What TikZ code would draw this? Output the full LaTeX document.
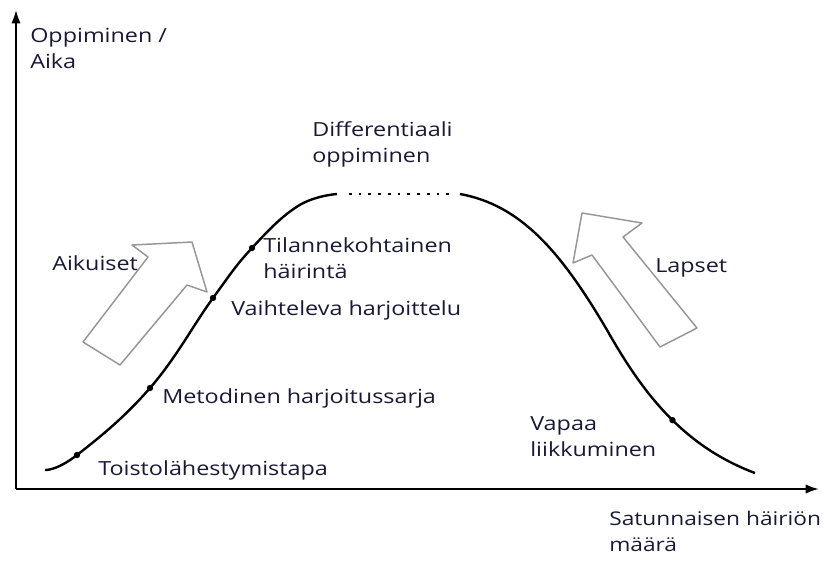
\documentclass[tikz,border=0pt]{standalone}
\usepackage{fontspec}
\setmainfont{Open Sans}[FakeStretch=1.2]
\usepackage{xcolor}
\usetikzlibrary{arrows.meta}
\definecolor{txt}{RGB}{25,25,55}
\definecolor{arrgray}{RGB}{150,150,150}

\begin{document}
\begin{tikzpicture}[x=0.75pt,y=-0.75pt,
    lbl/.style={anchor=base west,inner sep=0pt,text=txt,align=left,
      font=\fontsize{14.6}{19.5}\selectfont},
    axis/.style={line width=1.6pt,-{Latex[length=10pt,width=7pt]}},
    curve/.style={line width=1.8pt},
    hollow/.style={draw=arrgray,line width=1.1pt,fill=white,line join=round}]
  \useasboundingbox (0,0) rectangle (823,561);
  % axes
  \coordinate (o) at (16,489);
  \coordinate (ytip) at (16,10);
  \coordinate (xtip) at (819,489);
  \draw[axis] (o) -- (ytip);
  \draw[axis] (o) -- (xtip);
  % hollow arrows
  \draw[hollow] (83,342) -- (148,257) -- (132,245) -- (192,242) -- (207,292)
    -- (187,285) -- (120,365) -- cycle;
  \draw[hollow] (697,328) -- (623,237) -- (642,223) -- (582,213) -- (573,263)
    -- (592,255) -- (660,347) -- cycle;
  % learning curve
  \coordinate (p1) at (77,455);
  \coordinate (p2) at (150,388);
  \coordinate (p3) at (213,298);
  \coordinate (p4) at (252,248);
  \coordinate (topl) at (337,194);
  \coordinate (topr) at (460,194);
  \coordinate (mid) at (607,330);
  \draw[curve] plot[smooth,tension=0.7] coordinates {(45,470) (p1) (p2) (p3) (p4) (298,206) (topl)};
  \draw[curve] (topr) .. controls (520,205) and (560,250) .. (mid)
    .. controls (640,388) and (680,445) .. coordinate[pos=0.55] (p5) (755,473);
  \draw[line width=2pt,dash pattern=on 2pt off 5.3pt] (349,194) -- (452,194);
  \foreach \p in {p1,p2,p3,p4,p5}
    \fill (\p) circle (3.2);
  % labels (base = last line)
  \node[lbl] (yl) at (30,68) {Oppiminen /\\Aika};
  \node[lbl,font=\fontsize{14.2}{19.5}\selectfont] (xl) at (609,551) {Satunnaisen häiriön\\määrä};
  \node[lbl] (diff) at (312,162) {Differentiaali\\oppiminen};
  \node[lbl] (aik) at (52,270) {Aikuiset};
  \node[lbl] (lap) at (655,272) {Lapset};
  \node[lbl] (tila) at (263,278) {Tilannekohtainen\\häirintä};
  \node[lbl] (vaih) at (231,315) {Vaihteleva harjoittelu};
  \node[lbl] (meto) at (162,403) {Metodinen harjoitussarja};
  \node[lbl] (toisto) at (98,475) {Toistolähestymistapa};
  \node[lbl] (vapaa) at (530,456) {Vapaa\\liikkuminen};
\end{tikzpicture}
\end{document}
